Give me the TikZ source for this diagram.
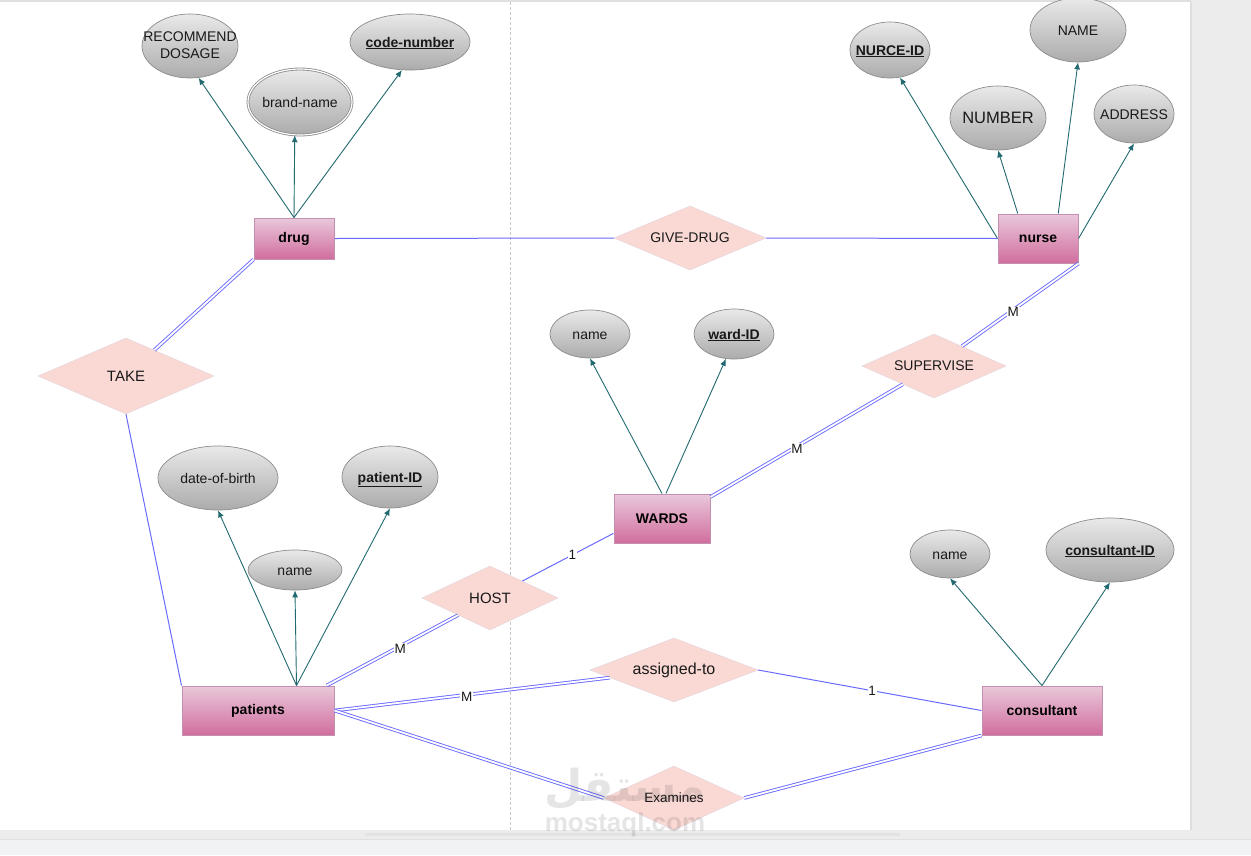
\documentclass[tikz,border=0pt]{standalone}
\usepackage{fontspec}
\setmainfont{Liberation Sans}
\newfontfamily\wmarabic[Script=Arabic]{DejaVu Sans}
\TeXXeTstate=1
\usepackage{xcolor}
\usetikzlibrary{arrows.meta,shapes.geometric}

\definecolor{relblue}{HTML}{6A6AFF}
\definecolor{attrteal}{HTML}{236A70}
\definecolor{diamondfill}{HTML}{FAD9D5}
\definecolor{diamondline}{HTML}{E2D3DA}
\definecolor{entitytop}{HTML}{E9C8DA}
\definecolor{entitybottom}{HTML}{D16E9E}
\definecolor{entityline}{HTML}{C48FB0}
\definecolor{attrtop}{HTML}{E9E9E9}
\definecolor{attrbottom}{HTML}{ABABAB}
\definecolor{attrborder}{HTML}{8C8C8C}
\definecolor{panelgray}{HTML}{ECECEC}
\definecolor{footgray}{HTML}{F1F2F4}

% text of an ellipse: no size of its own
\newcommand{\attrtext}[1]{\raisebox{-.36em}[0pt][0pt]{\makebox[0pt]{#1}}}
\newcommand{\px}[1]{\fontsize{#1}{#1}\selectfont}

\tikzset{
  entity/.style={rectangle, draw=entityline, top color=entitytop, bottom color=entitybottom, inner sep=0, line width=1pt, font=\px{14}\bfseries, text=black},
  attr/.style={ellipse, draw=attrborder, top color=attrtop, bottom color=attrbottom, inner sep=0, line width=.7pt, font=\px{14}, text=black!90},
  rel/.style={diamond, draw=diamondline, fill=diamondfill, inner sep=0, aspect=2.4, font=\px{14}, text=black!90},
  attrline/.style={-{Latex[length=7pt, width=6pt]}, attrteal, line width=.9pt},
  single/.style={relblue, line width=1pt},
  twin/.style={draw=relblue, double=white, double distance=1.8pt, line width=.9pt},
  card/.style={fill=white, inner sep=.8pt, font=\px{13.5}, text=black!90},
  cardm/.style={card, yshift=-2.5pt},
}

\begin{document}
\begin{tikzpicture}[x=1pt, y=-1pt]
       \useasboundingbox (0, 0) rectangle (1251, 855);

       % page and panels
       \fill [white] (0, 0) rectangle (1251, 855);
       \fill [panelgray] (1191, 0) rectangle (1251, 840);
       \fill [panelgray] (0, 830) rectangle (1251, 840);
       \fill [footgray] (0, 840) rectangle (1251, 855);
       \fill [black!12] (0, 0) rectangle (1191, 2);
       \fill [black!13] (1190, 2) rectangle (1192, 830);
       \fill [black!12] (0, 839) rectangle (1251, 840);
       \fill [black!11] (365, 833) rectangle (900, 835.5);
       \draw [black!22, densely dashed, line width=.8pt] (510.5, 2) -- (510.5, 830);

       % entities
       \node [entity, minimum width=80, minimum height=41] (drug) at (294, 238.5) {drug};
       \node [entity, minimum width=80, minimum height=49] (nurse) at (1038, 238.5) {nurse};
       \node [entity, minimum width=96, minimum height=49] (wards) at (662, 518.5) {WARDS};
       \node [entity, minimum width=152, minimum height=49] (patients) at (258, 710.5) {patients};
       \node [entity, minimum width=120, minimum height=49] (consultant) at (1042, 710.5) {consultant};

       % relations
       \node [rel, minimum width=176, minimum height=76, font=\px{15}] (take) at (126, 376) {TAKE};
       \node [rel, minimum width=152, minimum height=64] (givedrug) at (690, 238) {GIVE-DRUG};
       \node [rel, minimum width=144, minimum height=64] (supervise) at (934, 366) {SUPERVISE};
       \node [rel, minimum width=136, minimum height=64, font=\px{15}] (host) at (490, 598) {HOST};
       \node [rel, minimum width=168, minimum height=64, font=\px{16}] (assigned) at (674, 670) {assigned-to};
       \node [rel, minimum width=140, minimum height=64, font=\px{13.5}] (examines) at (674, 798) {Examines};

       % attributes of drug
       \node [attr, minimum width=96, minimum height=64] (dosage) at (190, 46) {\attrtext{\begin{tabular}{@{}c@{}}RECOMMEND\\[3pt]DOSAGE\end{tabular}}};
       \node [attr, minimum width=104, minimum height=66, double=white, double distance=1.2pt, line width=.8pt] (brand) at (300, 102) {\attrtext{brand-name}};
       \node [attr, minimum width=120, minimum height=56] (code) at (410, 42) {\attrtext{\textbf{\underline{code-number}}}};

       % attributes of nurse
       \node [attr, minimum width=80, minimum height=56] (nurceid) at (890, 50) {\attrtext{\textbf{\underline{NURCE-ID}}}};
       \node [attr, minimum width=96, minimum height=64] (nursename) at (1078, 30) {\attrtext{NAME}};
       \node [attr, minimum width=96, minimum height=64, font=\px{16.5}] (number) at (998, 118) {\attrtext{NUMBER}};
       \node [attr, minimum width=80, minimum height=58] (address) at (1134, 114) {\attrtext{ADDRESS}};

       % attributes of wards
       \node [attr, minimum width=80, minimum height=48] (wardname) at (590, 334) {\attrtext{name}};
       \node [attr, minimum width=80, minimum height=50] (wardid) at (734, 334) {\attrtext{\textbf{\underline{ward-ID}}}};

       % attributes of patients
       \node [attr, minimum width=120, minimum height=64] (birth) at (218, 478) {\attrtext{date-of-birth}};
       \node [attr, minimum width=96, minimum height=62] (patientid) at (390, 477) {\attrtext{\textbf{\underline{patient-ID}}}};
       \node [attr, minimum width=94, minimum height=40] (patientname) at (295, 570) {\attrtext{name}};

       % attributes of consultant
       \node [attr, minimum width=80, minimum height=48] (consname) at (950, 554) {\attrtext{name}};
       \node [attr, minimum width=128, minimum height=64] (consid) at (1110, 550) {\attrtext{\textbf{\underline{consultant-ID}}}};

       % attribute links
       \foreach \a/\b in {drug.north/dosage.285, drug.north/brand.261, drug.north/code.254,
                          nurse.west/nurceid.290, nurse.129/number.south, nurse.51/nursename.south, nurse.east/address.south,
                          wards.north/wardname.south, wards.81/wardid.252,
                          patients.33/birth.south, patients.33/patientname.south, patients.33/patientid.south,
                          consultant.north/consname.south, consultant.north/consid.south}{
       \draw [attrline] (\a) -- (\b);
       }

       % single links
       \draw [single] (drug.east) -- (givedrug.west);
       \draw [single] (givedrug.east) -- (nurse.west);
       \draw [single] (take.south) -- (patients.north west);
       \draw [single] (host) -- (wards.197) node [card, pos=.55] (hostcard) {1};
       \draw [single] (assigned.east) -- (consultant.west) node [card, pos=.51] (assignedcard) {1};

       % double links
       \draw [twin] (drug.south west) -- (take);
       \draw [twin] (patients.20) -- (host) node [cardm, pos=.56] (patientscard) {M};
       \draw [twin] (wards.24) -- (supervise) node [cardm, pos=.45] (wardscard) {M};
       \draw [twin] (nurse.south east) -- (supervise) node [cardm, pos=.56] (nursecard) {M};
       \draw [twin] (patients.east) -- (assigned) node [cardm, pos=.48] (assigncard) {M};
       \draw [twin] (patients.east) -- (examines.west);
       \draw [twin] (examines.east) -- (consultant.south west);

       % watermark
       \node [opacity=.1, font=\px{44}\bfseries\wmarabic] (wmlogo) at (625, 789) {\beginR مستقل\endR};
       \node [opacity=.1, font=\px{26}\bfseries] (wmtext) at (625, 825) {mostaql.com};
\end{tikzpicture}
\end{document}
